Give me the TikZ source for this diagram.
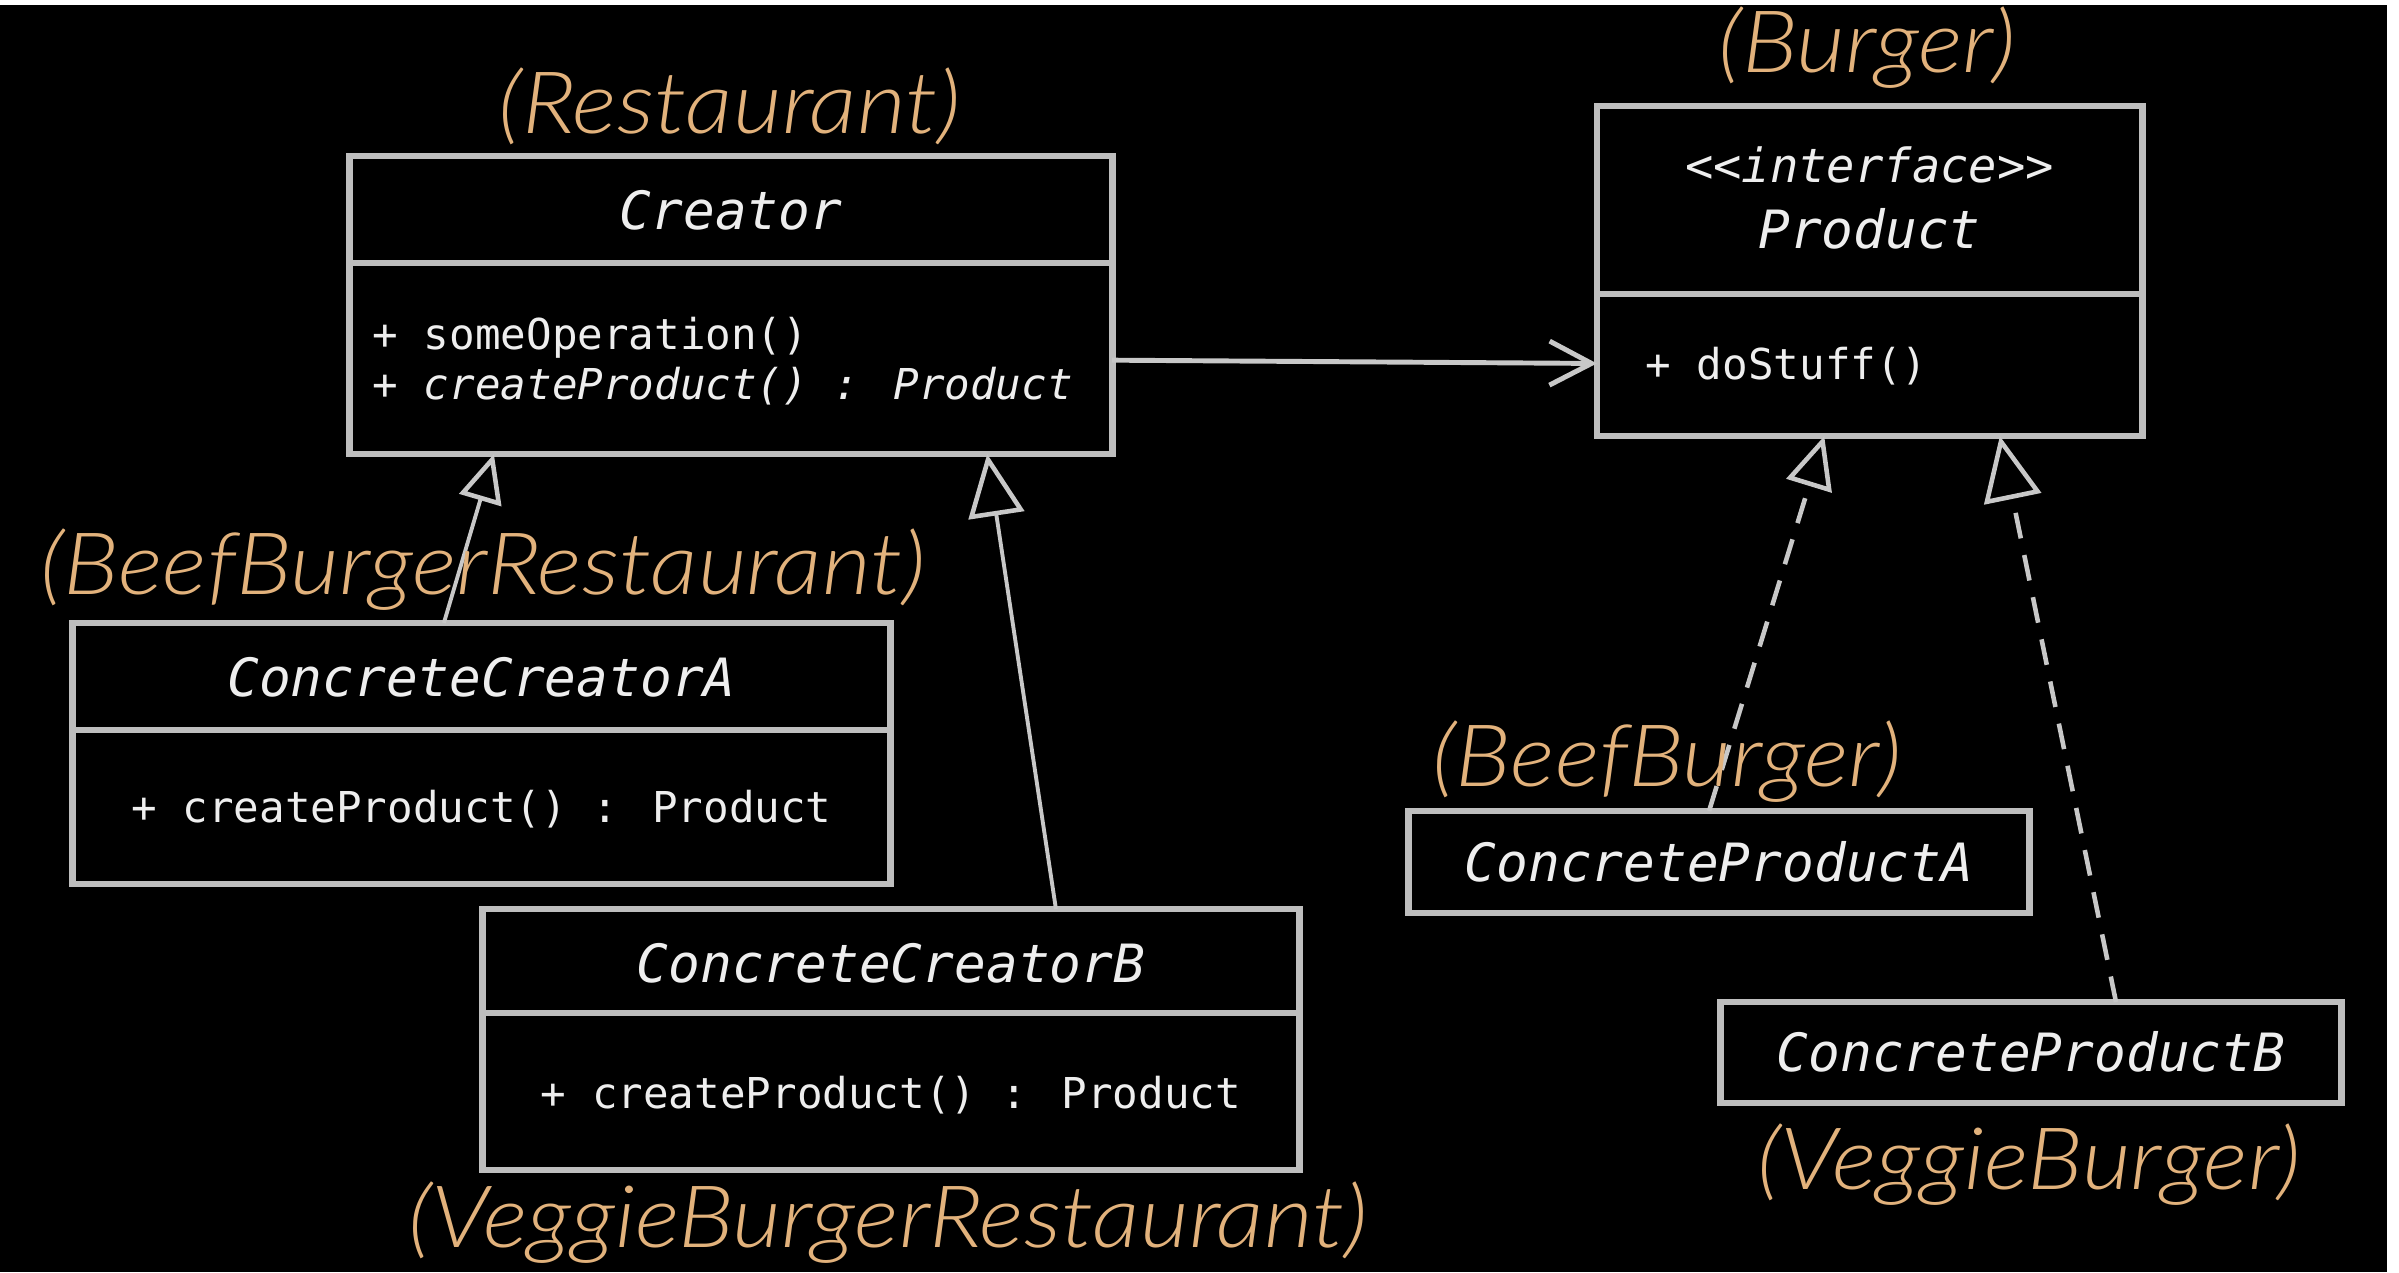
\documentclass[tikz,border=0pt]{standalone}
\usepackage{fontspec}
\usetikzlibrary{arrows.meta,calc}
\newfontfamily\monofam{DejaVu Sans Mono}
\newfontfamily\aliasfam{Lato Light Italic}[FakeStretch=1.1]
\definecolor{boxgray}{RGB}{190,190,190}
\definecolor{linegray}{RGB}{200,200,200}
\definecolor{ink}{RGB}{238,238,238}
\definecolor{tan}{RGB}{226,178,124}
\tikzset{
  umlbox/.style={draw=boxgray, line width=1.9pt, fill=black, rectangle, inner sep=0pt, outer sep=0pt},
  divider/.style={draw=boxgray, line width=1.9pt},
  classname/.style={font=\monofam\itshape\fontsize{15}{18}\selectfont, text=ink, anchor=base, inner sep=0pt},
  stereo/.style={font=\monofam\itshape\fontsize{13.4}{16}\selectfont, text=ink, anchor=base, inner sep=0pt},
  member/.style={font=\monofam\fontsize{12.1}{14}\selectfont, text=ink, anchor=base west, inner sep=0pt},
  membermid/.style={font=\monofam\fontsize{12.1}{14}\selectfont, text=ink, anchor=base, inner sep=0pt},
  alias/.style={font=\aliasfam\fontsize{24.5}{28}\selectfont, text=tan, anchor=base, inner sep=0pt},
  inherit/.style={draw=linegray, line width=1.1pt, -{Triangle[open, length=#1, width=0.9*#1, fill=black, line width=1.3pt]}},
  realize/.style={inherit=#1, line width=1.3pt, dash pattern=on 0.26cm off 0.17cm},
  assoc/.style={draw=linegray, line width=1.4pt, -{Straight Barb[length=0.42cm, width=0.44cm, line width=1.4pt]}}
}
\begin{document}
\begin{tikzpicture}[x=0.01cm, y=-0.01cm]
  % canvas
  \useasboundingbox (0,0) rectangle (2399,1272);
  \fill[black] (0,0) rectangle (2399,1272);
  \fill[white] (0,0) rectangle (2399,5);
  \fill[white] (2387,0) rectangle (2399,1272);

  % Creator
  \node[umlbox, minimum width=7.62cm, minimum height=2.98cm] (creator) at (731,305) {};
  \draw[divider] (creator.west |- 0,263) -- (creator.east |- 0,263);
  \node[classname] (creatorName) at (731,229) {Creator};
  \node[member] (creatorOp1) at (372,349) {+ someOperation()};
  \node[member] (creatorOp2) at (372,399) {+ \itshape createProduct() : Product};
  \node[alias] (aliasRestaurant) at (730,133) {(Restaurant)};

  % Product interface
  \node[umlbox, minimum width=5.45cm, minimum height=3.30cm] (product) at (1869.5,271) {};
  \draw[divider] (product.west |- 0,294) -- (product.east |- 0,294);
  \node[stereo] (productStereo) at (1869.5,182) {<<interface>>};
  \node[classname] (productName) at (1869.5,248) {Product};
  \node[member] (productOp) at (1645,379) {+ doStuff()};
  \node[alias] (aliasBurger) at (1867,72) {(Burger)};

  % ConcreteCreatorA
  \node[umlbox, minimum width=8.17cm, minimum height=2.61cm] (cca) at (481.5,753.5) {};
  \draw[divider] (cca.west |- 0,730) -- (cca.east |- 0,730);
  \node[classname] (ccaName) at (481.5,696) {ConcreteCreatorA};
  \node[membermid] (ccaOp) at (481.5,822) {+ createProduct() : Product};

  % ConcreteCreatorB
  \node[umlbox, minimum width=8.16cm, minimum height=2.61cm] (ccb) at (891,1039.5) {};
  \draw[divider] (ccb.west |- 0,1013) -- (ccb.east |- 0,1013);
  \node[classname] (ccbName) at (891,982) {ConcreteCreatorB};
  \node[membermid] (ccbOp) at (891,1108) {+ createProduct() : Product};
  \node[alias] (aliasVeggieRestaurant) at (888,1247) {(VeggieBurgerRestaurant)};

  % Concrete products
  \node[umlbox, minimum width=6.20cm, minimum height=1.02cm] (cpa) at (1719,862) {};
  \node[classname] (cpaName) at (1719,881) {ConcreteProductA};
  \node[umlbox, minimum width=6.20cm, minimum height=1.01cm] (cpb) at (2031,1052.5) {};
  \node[classname] (cpbName) at (2031,1071) {ConcreteProductB};

  % attachment points on the box borders
  \coordinate (ccaTop) at ($(cca.north west)!0.454!(cca.north east)$);
  \coordinate (creatorBotA) at ($(creator.south west)!0.189!(creator.south east)$);
  \coordinate (ccbTop) at ($(ccb.north west)!0.702!(ccb.north east)$);
  \coordinate (creatorBotB) at ($(creator.south west)!0.836!(creator.south east)$);
  \coordinate (creatorRight) at ($(creator.north east)!0.685!(creator.south east)$);
  \coordinate (productLeft) at ($(product.north west)!0.78!(product.south west)$);
  \coordinate (cpaTop) at ($(cpa.north west)!0.484!(cpa.north east)$);
  \coordinate (productBotA) at ($(product.south west)!0.417!(product.south east)$);
  \coordinate (cpbTop) at ($(cpb.north west)!0.637!(cpb.north east)$);
  \coordinate (productBotB) at ($(product.south west)!0.739!(product.south east)$);

  % connectors
  \draw[assoc] (creatorRight) -- (productLeft);
  \draw[inherit=0.48cm] (ccaTop) -- (creatorBotA);
  \draw[inherit=0.62cm] (ccbTop) -- (creatorBotB);
  \draw[realize=0.52cm] (cpaTop) -- (productBotA);
  \draw[realize=0.64cm] (cpbTop) -- (productBotB);

  % aliases drawn over the connectors
  \node[alias] (aliasBeefRestaurant) at (483,594) {(BeefBurgerRestaurant)};
  \node[alias] (aliasBeefBurger) at (1667,786) {(BeefBurger)};
  \node[alias] (aliasVeggieBurger) at (2029,1189) {(VeggieBurger)};
\end{tikzpicture}
\end{document}
